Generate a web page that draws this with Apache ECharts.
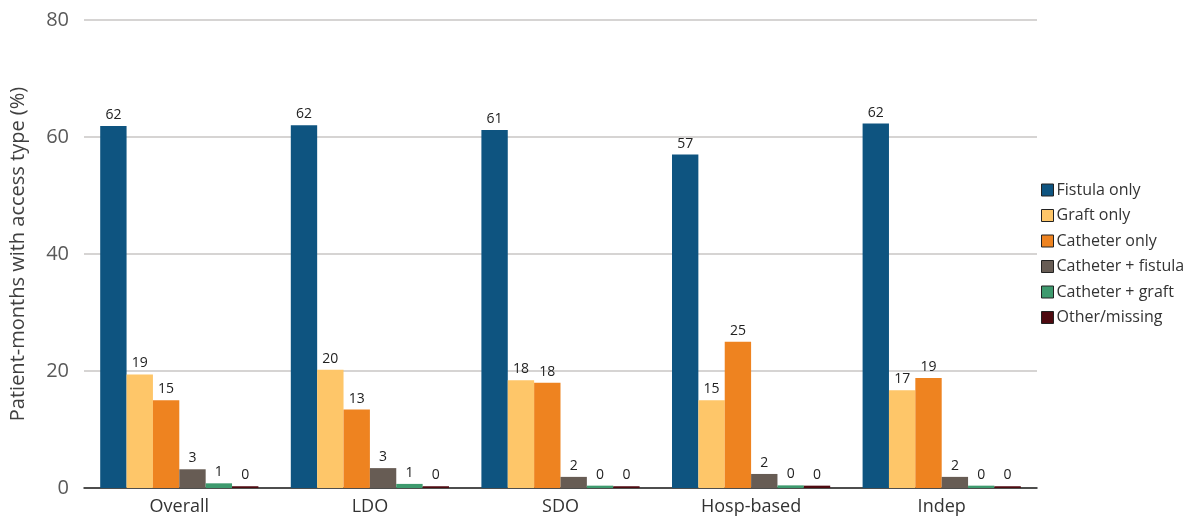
<!DOCTYPE html>
<html>
<head>
<meta charset="utf-8">
<script src="https://cdn.jsdelivr.net/npm/echarts@6/dist/echarts.min.js"></script>
<style>
  body { margin: 0; background: #fff; }
  #chart { width: 1202px; height: 527px; }
</style>
</head>
<body>
<div id="chart"></div>
<script>
// categories and series values (percent)
const categories = ['Overall', 'LDO', 'SDO', 'Hosp-based', 'Indep'];
const seriesNames = ['Fistula only', 'Graft only', 'Catheter only', 'Catheter + fistula', 'Catheter + graft', 'Other/missing'];
const fistulaOnly = [61.9, 62.0, 61.2, 57.0, 62.3];
const graftOnly = [19.4, 20.2, 18.4, 15.0, 16.7];
const catheterOnly = [15.0, 13.4, 18.0, 25.0, 18.8];
const cathFistula = [3.2, 3.4, 1.9, 2.4, 1.9];
const cathGraft = [0.8, 0.7, 0.4, 0.45, 0.4];
const otherMissing = [0.3, 0.3, 0.3, 0.4, 0.3];
const yTicks = [0, 20, 40, 60, 80];

const colors = ['#0e5480', '#fec669', '#ee8320', '#675c54', '#3e9a6e', '#4e0a10'];
const allData = [fistulaOnly, graftOnly, catheterOnly, cathFistula, cathGraft, otherMissing];
const font = 'Open Sans';

let chart = echarts.init(document.getElementById('chart'));
chart.setOption({
  animation: false,
  textStyle: { fontFamily: font },
  grid: { left: 80, right: 165, top: 20, bottom: 39 },
  legend: {
    orient: 'vertical',
    left: 1036,
    top: 177,
    itemWidth: 12,
    itemHeight: 12,
    itemGap: 9.5,
    icon: 'rect',
    itemStyle: { borderColor: '#222', borderWidth: 1 },
    textStyle: { fontSize: 16, color: '#333', fontFamily: font, padding: [0, 0, 0, -2] },
    data: seriesNames
  },
  xAxis: {
    type: 'category',
    data: categories,
    axisTick: { show: false },
    axisLine: { lineStyle: { color: '#222', width: 1.5 } },
    axisLabel: { fontSize: 18, color: '#333', margin: 10 }
  },
  yAxis: {
    type: 'value',
    min: yTicks[0],
    max: yTicks[yTicks.length - 1],
    interval: 20,
    name: 'Patient-months with access type (%)',
    nameLocation: 'middle',
    nameGap: 56,
    nameTextStyle: { fontSize: 20, color: '#404040' },
    axisLine: { show: false },
    axisTick: { show: false },
    axisLabel: { fontSize: 20, color: '#595959', margin: 15 },
    splitLine: { lineStyle: { color: '#c8c6c4', width: 1.5 } }
  },
  series: seriesNames.map((name, i) => ({
    name: name,
    type: 'bar',
    data: allData[i],
    barGap: '0%',
    barCategoryGap: '17%',
    itemStyle: { color: colors[i] },
    label: {
      show: true,
      position: 'top',
      distance: 4,
      fontSize: 14,
      color: '#222',
      formatter: p => Math.round(p.value)
    }
  }))
});
</script>
</body>
</html>
